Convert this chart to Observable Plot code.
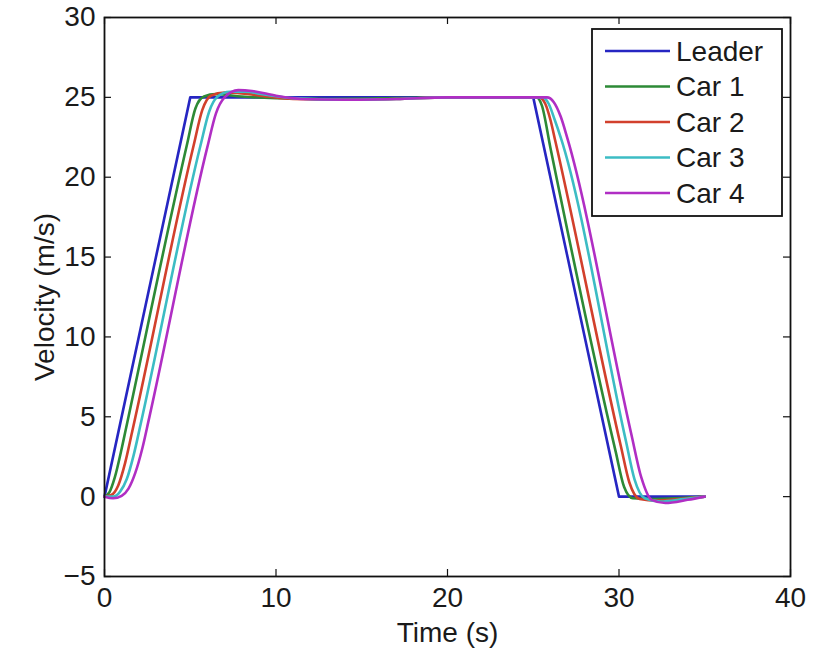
<!DOCTYPE html>
<html>
<head>
<meta charset="utf-8">
<script src="https://cdn.jsdelivr.net/npm/d3@7"></script>
<script src="https://cdn.jsdelivr.net/npm/@observablehq/plot@0.6"></script>
<style>
  html, body { margin: 0; padding: 0; background: #fff; }
</style>
</head>
<body>
<div id="chart"></div>
<script>
// ---- data ----
const seriesNames = ["Leader", "Car 1", "Car 2", "Car 3", "Car 4"];
const seriesColors = ["#2626c2", "#2d8a36", "#d2402c", "#3cbcc4", "#b02ec4"];

const leaderT = [0, 5, 25, 30, 35];
const leaderV = [0, 25, 25, 0, 0];

const car1T = [0, 0.3, 0.6, 1.0, 1.2, 4.8, 5.3, 5.8, 6.5, 8.0, 10, 13, 17, 20, 25.2, 25.5, 26.0, 29.8, 30.3, 30.8, 32, 35];
const car1V = [0, 0.3, 1.2, 3.0, 4.0, 22.0, 24.3, 25.05, 25.2, 25.05, 24.95, 24.9, 24.95, 25, 25, 24.5, 21.85, 2.85, 0.6, -0.1, -0.15, 0];

const car2T = [0, 0.4, 0.8, 1.2, 1.6, 5.2, 5.7, 6.2, 7.0, 8.0, 9.5, 11, 14, 17, 20, 25.35, 25.7, 26.0, 26.3, 30.1, 30.6, 31.2, 32.2, 33.5, 35];
const car2V = [0, 0.1, 0.7, 2.1, 4.0, 22.0, 24.2, 25.1, 25.3, 25.25, 25.05, 24.9, 24.85, 24.9, 25, 25, 24.6, 23.6, 22.2, 3.2, 0.9, -0.15, -0.25, -0.15, 0];

const car3T = [0, 0.5, 0.9, 1.3, 1.7, 2.1, 5.6, 6.1, 6.6, 7.3, 8.2, 9.5, 11, 14, 17, 20, 25.55, 25.9, 26.25, 26.6, 30.4, 30.9, 31.5, 32.4, 33.8, 35];
const car3V = [0, 0, 0.3, 1.1, 2.6, 4.5, 22.0, 24.1, 25.05, 25.35, 25.35, 25.15, 24.95, 24.85, 24.9, 25, 25, 24.6, 23.6, 22.5, 3.5, 1.1, -0.1, -0.3, -0.15, 0];

const car4T = [0, 0.5, 1.0, 1.4, 1.8, 2.2, 2.6, 6.0, 6.5, 7.0, 7.8, 8.6, 10, 11.5, 14, 17, 20, 25.8, 26.2, 26.6, 27.0, 30.7, 31.3, 31.9, 32.7, 34, 35];
const car4V = [0, -0.1, 0.05, 0.5, 1.5, 3.0, 4.9, 21.9, 24.0, 25.0, 25.45, 25.4, 25.1, 24.9, 24.85, 24.9, 25, 25, 24.7, 23.8, 22.4, 4.0, 1.2, -0.2, -0.4, -0.2, 0];

const xTicks = [0, 10, 20, 30, 40];
const yTicks = [-5, 0, 5, 10, 15, 20, 25, 30];
const xLabel = "Time (s)";
const yLabel = "Velocity (m/s)";

// ---- build table ----
function rows(name, T, V) { return T.map((t, i) => ({series: name, t, v: V[i]})); }
const leaderRows = rows(seriesNames[0], leaderT, leaderV);
const carRows = [
  rows(seriesNames[1], car1T, car1V),
  rows(seriesNames[2], car2T, car2V),
  rows(seriesNames[3], car3T, car3V),
  rows(seriesNames[4], car4T, car4V)
];

// ---- layout ----
const W = 821, H = 654;
const mL = 104, mR = 31, mT = 17, mB = 78;
const plotW = W - mL - mR, plotH = H - mT - mB;
const tick = 7;
const font = "'Liberation Sans', Arial, Helvetica, sans-serif";

const colorScale = {domain: seriesNames, range: seriesColors};

const plot = Plot.plot({
  width: W, height: H,
  marginLeft: mL, marginRight: mR, marginTop: mT, marginBottom: mB,
  style: {fontFamily: font, fontSize: "28px", color: "#1a1a1a", background: "#fff"},
  x: {domain: [0, 40], ticks: xTicks},
  y: {domain: [-5, 30], ticks: yTicks},
  color: colorScale,
  marks: [
    Plot.axisX(xTicks, {tickSize: 0, tickPadding: 11, label: null, fontSize: 28}),
    Plot.axisY(yTicks, {tickSize: 0, tickPadding: 9, label: null, fontSize: 28}),
    // inward ticks, MATLAB style, on all four sides
    Plot.ruleX(xTicks, {insetTop: plotH - tick, stroke: "#111", strokeWidth: 1.2}),
    Plot.ruleX(xTicks, {insetBottom: plotH - tick, stroke: "#111", strokeWidth: 1.2}),
    Plot.ruleY(yTicks, {insetRight: plotW - tick, stroke: "#111", strokeWidth: 1.2}),
    Plot.ruleY(yTicks, {insetLeft: plotW - tick, stroke: "#111", strokeWidth: 1.2}),
    Plot.line(leaderRows, {x: "t", y: "v", stroke: "series", strokeWidth: 2.6, curve: "linear"}),
    ...carRows.map(r => Plot.line(r, {x: "t", y: "v", stroke: "series", strokeWidth: 2.6, curve: "monotone-x"})),
    Plot.frame({stroke: "#111", strokeWidth: 1.8}),
    Plot.text([xLabel], {frameAnchor: "bottom", dy: 57, lineAnchor: "middle", textAnchor: "middle", fontSize: 28, fill: "#1a1a1a"}),
    Plot.text([yLabel], {frameAnchor: "left", dx: -59, rotate: -90, lineAnchor: "middle", textAnchor: "middle", fontSize: 28, fill: "#1a1a1a"})
  ]
});

document.getElementById("chart").appendChild(plot);

// ---- legend (drawn inside the SVG, top-right of the axes) ----
const svg = d3.select(plot);
const lg = svg.append("g").attr("font-family", font).attr("font-size", 28).attr("text-anchor", "start");
const bx = 592, by = 29, bw = 190, bh = 187;
lg.append("rect").attr("x", bx).attr("y", by).attr("width", bw).attr("height", bh)
  .attr("fill", "#fff").attr("stroke", "#111").attr("stroke-width", 1.8);
seriesNames.forEach((name, i) => {
  const yy = by + 22 + i * 35.5;
  lg.append("line").attr("x1", bx + 13).attr("x2", bx + 78).attr("y1", yy).attr("y2", yy)
    .attr("stroke", seriesColors[i]).attr("stroke-width", 2.6);
  lg.append("text").attr("x", bx + 84).attr("y", yy).attr("dy", "0.35em")
    .attr("text-anchor", "start").attr("fill", "#1a1a1a").text(name);
});
</script>
</body>
</html>
